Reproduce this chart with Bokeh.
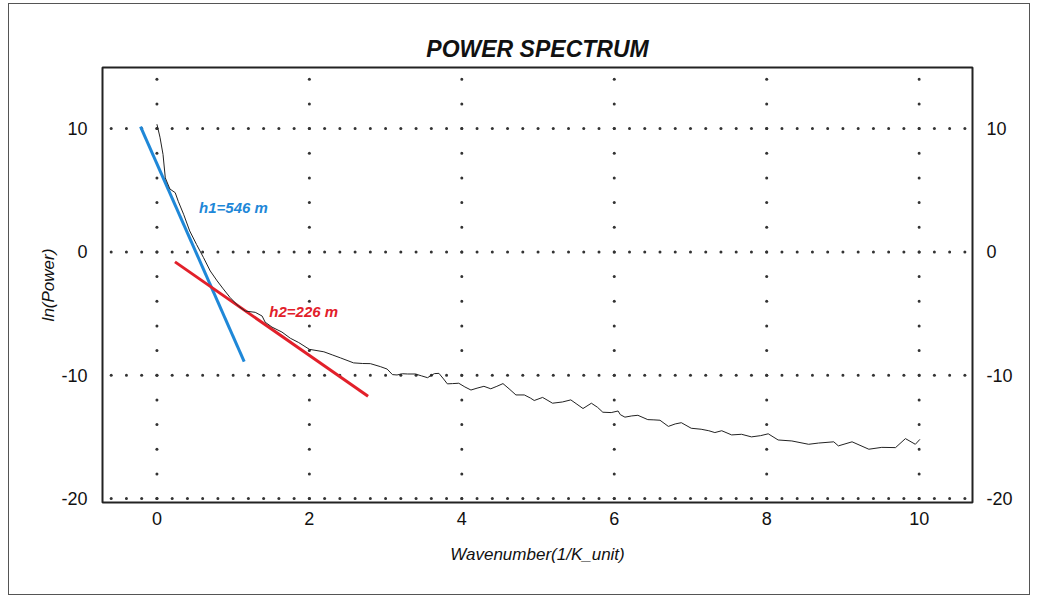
import numpy as np
from bokeh.plotting import figure
from bokeh.models import LinearAxis, FixedTicker, Range1d, Label
from bokeh.embed import file_html
from bokeh.resources import INLINE

# ---- data ----
wavenumber = [0.00, 0.04, 0.08, 0.11, 0.17, 0.24, 0.28, 0.35, 0.43, 0.52, 0.61, 0.70, 0.79, 0.87,
              0.96, 1.07, 1.16, 1.29, 1.38, 1.42, 1.51, 1.64, 1.75, 1.86, 2.00, 2.19, 2.30, 2.41,
              2.58, 2.70, 2.80, 2.93, 3.02, 3.09, 3.15, 3.22, 3.29, 3.39, 3.47, 3.55, 3.64, 3.70,
              3.76, 3.81, 3.88, 3.96, 4.04, 4.12, 4.20, 4.29, 4.38, 4.46, 4.54, 4.62, 4.71, 4.82,
              4.90, 4.95, 5.06, 5.13, 5.19, 5.32, 5.43, 5.51, 5.59, 5.70, 5.78, 5.85, 5.96, 6.05,
              6.08, 6.14, 6.23, 6.31, 6.44, 6.52, 6.60, 6.71, 6.80, 6.88, 7.01, 7.14, 7.24, 7.32,
              7.41, 7.54, 7.67, 7.80, 7.92, 8.02, 8.15, 8.33, 8.55, 8.68, 8.88, 8.94, 9.12, 9.34,
              9.51, 9.69, 9.82, 9.95, 10.01]
ln_power = [10.35, 9.3, 7.9, 6.0, 5.1, 4.8, 4.1, 3.05, 1.7, 0.6, -0.45, -1.55, -2.35, -3.0,
            -3.7, -4.4, -4.8, -4.9, -5.2, -5.7, -6.1, -6.5, -7.0, -7.35, -7.9, -8.1, -8.35, -8.6,
            -9.0, -9.05, -9.06, -9.3, -9.5, -9.95, -9.98, -9.88, -9.9, -9.9, -10.05, -10.2, -9.87, -9.85,
            -10.3, -10.7, -10.68, -10.65, -10.95, -11.2, -11.05, -10.9, -11.1, -10.9, -10.68, -11.1, -11.6, -11.6,
            -11.85, -12.05, -11.8, -12.05, -12.27, -12.17, -12.0, -12.35, -12.7, -12.27, -12.6, -13.0, -13.03, -12.9,
            -13.2, -13.4, -13.3, -13.25, -13.6, -13.62, -13.65, -14.15, -13.95, -13.85, -14.3, -14.38, -14.5, -14.65,
            -14.5, -14.84, -14.79, -15.0, -14.9, -14.75, -15.25, -15.33, -15.6, -15.5, -15.4, -15.73, -15.4, -16.0,
            -15.85, -15.87, -15.14, -15.6, -15.2]

fit1_x = [-0.215, 1.145]
fit1_y = [10.16, -8.9]
fit2_x = [0.237, 2.77]
fit2_y = [-0.81, -11.7]
fit1_label = "h1=546 m"
fit2_label = "h2=226 m"
fit1_label_pos = (0.553, 3.57)
fit2_label_pos = (1.474, -4.87)

x_ticks = [0, 2, 4, 6, 8, 10]
y_ticks = [-20, -10, 0, 10]
y_tick_labels = {-20: "-20", -10: "-10", 0: "0", 10: "10"}

FONT = "Liberation Sans"
BLUE = "#1f88d8"
RED = "#e2202a"

p = figure(width=1022, height=592, output_backend="svg", toolbar_location=None,
           x_range=Range1d(-0.714, 10.70), y_range=Range1d(-20.32, 14.95),
           min_border_left=93, min_border_right=59, min_border_top=63, min_border_bottom=94,
           title="POWER SPECTRUM")
p.margin = (3, 0, 0, 8)
p.styles = {"border": "1.5px solid #555"}

p.title.align = "center"
p.title.text_font = FONT
p.title.text_font_size = "23px"
p.title.text_font_style = "bold italic"
p.title.text_color = "#111"
p.title.standoff = 12

p.grid.visible = False
p.outline_line_color = "#222"
p.outline_line_width = 2
p.background_fill_color = "white"
p.border_fill_color = "white"

# axes
for ax in [p.xaxis[0], p.yaxis[0]]:
    ax.axis_line_color = None
    ax.major_tick_line_color = None
    ax.minor_tick_line_color = None
    ax.major_label_text_font = FONT
    ax.major_label_text_font_size = "18px"
    ax.major_label_text_color = "#111"
    ax.axis_label_text_font = FONT
    ax.axis_label_text_font_size = "17px"
    ax.axis_label_text_font_style = "italic"
    ax.axis_label_text_color = "#111"

p.xaxis.ticker = FixedTicker(ticks=x_ticks)
p.yaxis.ticker = FixedTicker(ticks=y_ticks)
p.yaxis.major_label_overrides = y_tick_labels
p.xaxis.axis_label = "Wavenumber(1/K_unit)"
p.yaxis.axis_label = "ln(Power)"
p.xaxis.major_label_standoff = 3
p.xaxis.axis_label_standoff = 17
p.yaxis.major_label_standoff = 9
p.yaxis.axis_label_standoff = 0

ry = LinearAxis(ticker=FixedTicker(ticks=y_ticks))
ry.major_label_overrides = y_tick_labels
ry.axis_line_color = None
ry.major_tick_line_color = None
ry.minor_tick_line_color = None
ry.major_label_text_font = FONT
ry.major_label_text_font_size = "18px"
ry.major_label_text_color = "#111"
ry.major_label_standoff = 8
p.add_layout(ry, "right")

# dotted grid
gx_h = np.round(np.arange(-0.6, 10.61, 0.2), 2)
gy_v = np.arange(-20, 14.1, 2)
dots_x = []
dots_y = []
for yt in y_ticks:
    dots_x += list(gx_h)
    dots_y += [yt] * len(gx_h)
for xt in x_ticks:
    dots_x += [xt] * len(gy_v)
    dots_y += list(gy_v)
p.scatter(dots_x, dots_y, size=3, color="#333", line_color=None)

# fit lines
p.line(fit1_x, fit1_y, color=BLUE, line_width=3)
p.line(fit2_x, fit2_y, color=RED, line_width=3)

# spectrum
p.line(wavenumber, ln_power, color="#222", line_width=1)

p.add_layout(Label(x=fit1_label_pos[0], y=fit1_label_pos[1], text=fit1_label, text_color=BLUE,
                   text_font=FONT, text_font_size="15px", text_font_style="bold italic",
                   text_baseline="middle", text_align="left"))
p.add_layout(Label(x=fit2_label_pos[0], y=fit2_label_pos[1], text=fit2_label, text_color=RED,
                   text_font=FONT, text_font_size="15px", text_font_style="bold italic",
                   text_baseline="middle", text_align="left"))

open("out.html", "w").write(file_html(p, INLINE))
